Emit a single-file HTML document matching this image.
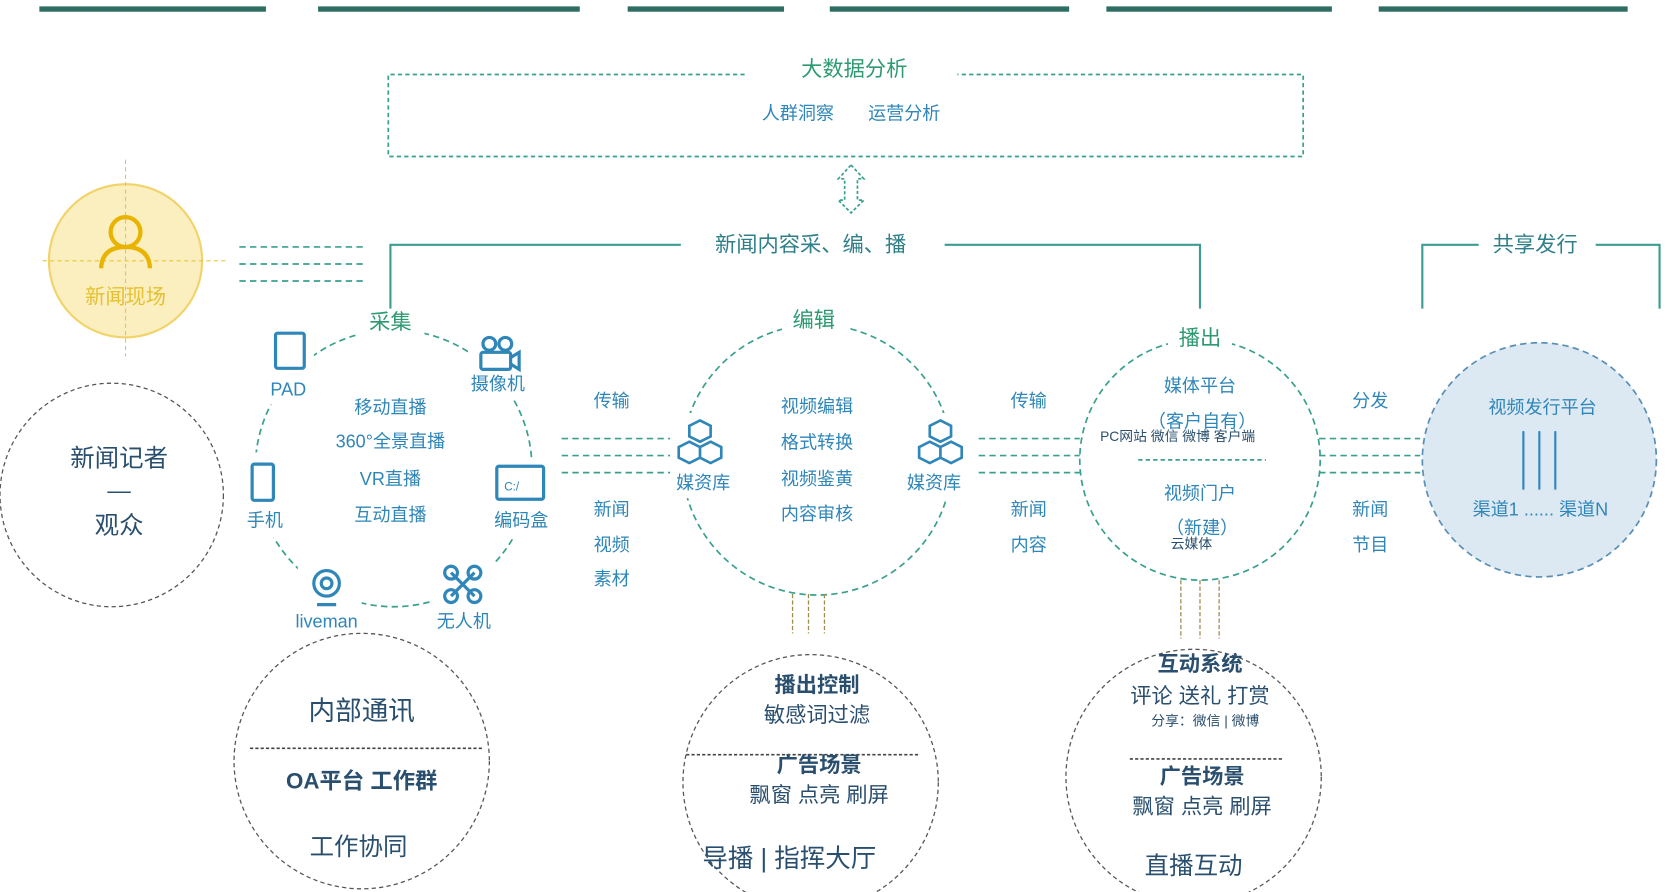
<!DOCTYPE html>
<html><head><meta charset="utf-8"><style>
html,body{margin:0;padding:0;background:#fff;}
svg{display:block;}
text{font-family:"Liberation Sans","Noto Sans CJK SC",sans-serif;text-anchor:middle;dominant-baseline:middle;}
.b{fill:#2f86b8;font-size:17px;}
.g{fill:#2e9a72;font-size:20px;}
.d{fill:#2a4f6e;}
.dl{stroke:#3aa08e;stroke-width:1.6;stroke-dasharray:6 4;fill:none;}
.dk{stroke:#555;stroke-width:1.2;stroke-dasharray:4 3;fill:none;}
.ic{stroke:#2f86b8;stroke-width:3;fill:none;}
</style></head><body>
<svg width="1667" height="892" viewBox="0 0 1567 838" preserveAspectRatio="none" xmlns="http://www.w3.org/2000/svg">
<rect width="1567" height="838" fill="#fff"/>
<g fill="#2e6e62">
<rect x="37" y="6" width="213" height="5"/><rect x="299" y="6" width="246" height="5"/><rect x="590" y="6" width="147" height="5"/>
<rect x="780" y="6" width="225" height="5"/><rect x="1040" y="6" width="212" height="5"/><rect x="1296" y="6" width="234" height="5"/>
</g>
<!-- big data -->
<path class="dl" d="M700 70 H365 V147 H1225 V70 H900" style="stroke-dasharray:4 3"/>
<text x="803" y="66" class="g">大数据分析</text>
<text x="750" y="108" class="b">人群洞察</text><text x="850" y="108" class="b">运营分析</text>
<path class="dl" d="M800 155 L812 168 H806 V188 H812 L800 200 L788 188 H794 V168 H788 Z" style="stroke-dasharray:3 2"/>
<!-- main line -->
<path d="M367 290 V230 H640 M888 230 H1128 V290" stroke="#3a9d8f" stroke-width="2" fill="none"/>
<text x="762" y="231" class="g" style="fill:#2f7f8a">新闻内容采、编、播</text>
<path d="M1337 290 V230 H1390 M1500 230 H1560 V290" stroke="#3a9d8f" stroke-width="2" fill="none"/>
<text x="1443" y="231" class="g" style="fill:#2f7f8a">共享发行</text>
<!-- news scene -->
<circle cx="118" cy="245" r="72" fill="#fbeebf" stroke="#f1d36a" stroke-width="2"/>
<path d="M118 150 V335 M40 245 H212" stroke="#e8c640" stroke-width="1" stroke-dasharray="4 3"/>
<circle cx="118" cy="218" r="14" fill="none" stroke="#e8b400" stroke-width="4"/>
<path d="M95 252 Q96 232 118 232 Q140 232 141 252" fill="none" stroke="#e8b400" stroke-width="4"/>
<text x="118" y="280" style="fill:#e6c030;font-size:19px">新闻现场</text>
<path class="dl" d="M225 232 H345 M225 248 H345 M225 264 H345"/>
<circle cx="105" cy="465" r="105" class="dk"/>
<text x="112" y="432" class="d" style="font-size:23px">新闻记者</text>
<text x="112" y="462" class="d" style="font-size:22px">—</text>
<text x="112" y="495" class="d" style="font-size:23px">观众</text>
<!-- capture -->
<circle cx="370" cy="440" r="130" class="dl"/>
<rect x="335" y="292" width="64" height="24" fill="#fff"/>
<text x="367" y="304" class="g">采集</text>
<g fill="#fff"><rect x="250" y="305" width="45" height="75"/><rect x="440" y="305" width="60" height="70"/><rect x="225" y="425" width="45" height="80"/><rect x="455" y="430" width="70" height="75"/><rect x="280" y="525" width="60" height="70"/><rect x="405" y="525" width="60" height="70"/></g>
<rect x="259" y="313" width="27" height="33" rx="2" class="ic"/>
<text x="271" y="367" class="b">PAD</text>
<circle cx="460" cy="323" r="6" class="ic"/><circle cx="475" cy="323" r="6" class="ic"/><rect x="452" y="331" width="28" height="16" rx="2" class="ic"/><path d="M480 336 L488 331 V347 L480 342" class="ic"/>
<text x="468" y="362" class="b">摄像机</text>
<rect x="237" y="436" width="20" height="34" rx="2" class="ic"/>
<text x="249" y="490" class="b">手机</text>
<rect x="467" y="438" width="44" height="31" rx="2" class="ic"/><text x="481" y="458" style="fill:#2f86b8;font-size:11px">C:/</text>
<text x="490" y="490" class="b">编码盒</text>
<circle cx="307" cy="548" r="12" class="ic"/><circle cx="307" cy="548" r="5" class="ic"/><path d="M298 568 H316" class="ic"/>
<text x="307" y="585" class="b">liveman</text>
<path d="M424 538 L446 560 M446 538 L424 560" class="ic"/><circle cx="424" cy="538" r="6" class="ic"/><circle cx="446" cy="538" r="6" class="ic"/><circle cx="424" cy="560" r="6" class="ic"/><circle cx="446" cy="560" r="6" class="ic"/>
<text x="436" y="585" class="b">无人机</text>
<text x="367" y="384" class="b">移动直播</text><text x="367" y="416" class="b">360°全景直播</text><text x="367" y="451" class="b">VR直播</text><text x="367" y="485" class="b">互动直播</text>
<text x="575" y="378" class="b">传输</text>
<path class="dl" d="M528 412 H630 M528 428 H630 M528 444 H630"/>
<text x="575" y="480" class="b">新闻</text><text x="575" y="513" class="b">视频</text><text x="575" y="545" class="b">素材</text>
<!-- edit -->
<circle cx="768" cy="432" r="127" class="dl"/>
<rect x="735" y="290" width="64" height="24" fill="#fff"/>
<text x="765" y="302" class="g">编辑</text>
<g fill="#fff"><rect x="630" y="388" width="62" height="80"/><rect x="848" y="388" width="62" height="80"/></g>
<g class="ic" style="stroke-width:2.5"><path d="M658 395 l10 5 v10 l-10 5 l-10 -5 v-10z M648 415 l10 5 v10 l-10 5 l-10 -5 v-10z M668 415 l10 5 v10 l-10 5 l-10 -5 v-10z"/>
<path d="M884 395 l10 5 v10 l-10 5 l-10 -5 v-10z M874 415 l10 5 v10 l-10 5 l-10 -5 v-10z M894 415 l10 5 v10 l-10 5 l-10 -5 v-10z"/></g>
<text x="661" y="455" class="b">媒资库</text><text x="878" y="455" class="b">媒资库</text>
<text x="768" y="383" class="b">视频编辑</text><text x="768" y="417" class="b">格式转换</text><text x="768" y="451" class="b">视频鉴黄</text><text x="768" y="484" class="b">内容审核</text>
<text x="967" y="378" class="b">传输</text>
<path class="dl" d="M920 412 H1015 M920 428 H1015 M920 444 H1015"/>
<text x="967" y="480" class="b">新闻</text><text x="967" y="513" class="b">内容</text>
<!-- broadcast -->
<circle cx="1128" cy="432" r="113" class="dl"/>
<rect x="1098" y="306" width="60" height="26" fill="#fff"/>
<text x="1128" y="319" class="g">播出</text>
<text x="1128" y="364" class="b">媒体平台</text><text x="1130" y="397" class="b">（客户自有）</text>
<text x="1107" y="411" style="fill:#2a4f6e;font-size:13px">PC网站 微信 微博 客户端</text>
<path class="dl" d="M1070 432 H1190" style="stroke-dasharray:4 3"/>
<text x="1128" y="465" class="b">视频门户</text><text x="1130" y="497" class="b">（新建）</text>
<text x="1120" y="512" style="fill:#2a4f6e;font-size:13px">云媒体</text>
<text x="1288" y="378" class="b">分发</text>
<path class="dl" d="M1240 412 H1335 M1240 428 H1335 M1240 444 H1335"/>
<text x="1288" y="480" class="b">新闻</text><text x="1288" y="513" class="b">节目</text>
<circle cx="1447" cy="432" r="110" fill="#dce9f3" stroke="#5a8fb5" stroke-width="1.6" stroke-dasharray="6 4"/>
<text x="1450" y="384" class="b">视频发行平台</text>
<path d="M1432 405 V460 M1447 405 V460 M1462 405 V460" stroke="#2f86b8" stroke-width="2"/>
<text x="1448" y="480" class="b">渠道1 ...... 渠道N</text>
<!-- vertical links -->
<path d="M745 558 V595 M760 558 V595 M775 558 V595" stroke="#a08a50" stroke-width="1.2" stroke-dasharray="4 2"/>
<path d="M1110 545 V600 M1128 545 V600 M1146 545 V600" stroke="#a08a50" stroke-width="1.2" stroke-dasharray="4 2"/>
<!-- bottom circles -->
<circle cx="340" cy="715" r="120" class="dk"/>
<text x="340" y="670" class="d" style="font-size:25px">内部通讯</text>
<path d="M235 703 H455" stroke="#444" stroke-width="1.5" stroke-dasharray="3 2"/>
<text x="340" y="735" class="d" style="font-size:21px;font-weight:bold">OA平台  工作群</text>
<text x="337" y="797" class="d" style="font-size:23px">工作协同</text>
<circle cx="762" cy="735" r="120" class="dk"/>
<text x="768" y="645" class="d" style="font-size:20px;font-weight:bold">播出控制</text>
<text x="768" y="673" class="d" style="font-size:20px">敏感词过滤</text>
<path d="M645 709 H865" stroke="#444" stroke-width="1.5" stroke-dasharray="3 2"/>
<text x="770" y="720" class="d" style="font-size:20px;font-weight:bold">广告场景</text>
<text x="770" y="748" class="d" style="font-size:20px">飘窗 点亮 刷屏</text>
<text x="742" y="808" class="d" style="font-size:24px">导播 | 指挥大厅</text>
<circle cx="1122" cy="730" r="120" class="dk"/>
<text x="1128" y="625" class="d" style="font-size:20px;font-weight:bold">互动系统</text>
<text x="1128" y="655" class="d" style="font-size:20px">评论 送礼 打赏</text>
<text x="1133" y="678" class="d" style="font-size:13px">分享：微信 | 微博</text>
<path d="M1062 713 H1205" stroke="#444" stroke-width="1.5" stroke-dasharray="3 2"/>
<text x="1130" y="731" class="d" style="font-size:20px;font-weight:bold">广告场景</text>
<text x="1130" y="759" class="d" style="font-size:20px">飘窗 点亮 刷屏</text>
<text x="1122" y="815" class="d" style="font-size:23px">直播互动</text>
</svg>
</body></html>
